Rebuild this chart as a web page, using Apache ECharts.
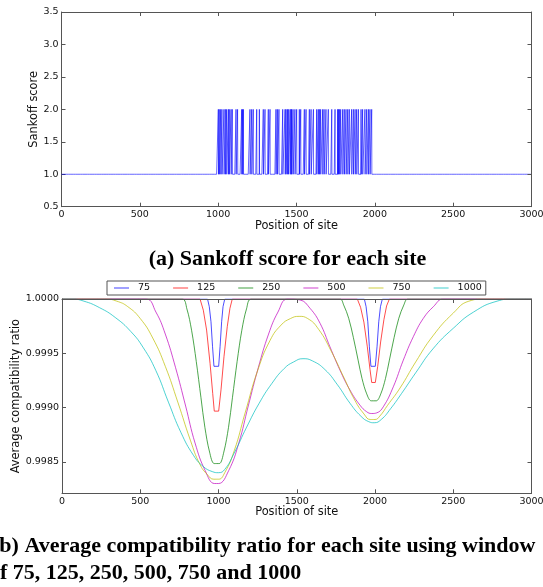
<!DOCTYPE html>
<html><head><meta charset="utf-8">
<script src="https://cdn.jsdelivr.net/npm/echarts@6/dist/echarts.min.js"></script>
<style>html,body{margin:0;padding:0;background:#fff}#c{width:543px;height:587px}</style>
</head><body><div id="c"></div>
<script>
// ---------- data ----------
const siteCount = 3000;
const sankoffLow = 1;
const sankoffHigh = 2;
// sites whose Sankoff score is 2 (others are 1)
const sankoffSites = [1001,1007,1016,1024,1037,1046,1054,1065,1071,1082,1090,1114,1124,1150,1156,1161,
  1203,1214,1224,1246,1263,1288,1299,1320,1331,1369,1378,1388,1412,1427,1433,1442,1448,1459,1465,1469,
  1478,1490,1501,1518,1527,1550,1561,1582,1593,1608,1629,1639,1646,1654,1667,1676,1688,1703,1725,1746,
  1763,1767,1774,1782,1795,1805,1816,1827,1837,1852,1863,1874,1884,1895,1912,1922,1937,1948,1959,1969,1980];

const windowNames = ['75','125','250','500','750','1000'];

const sites75 = [0,930,941,952,962,971,1001,1010,1020,1029,1040,1932,1943,1954,1964,1974,2002,2013,2024,2035,2047,2999];
const ratio75 = [1,1,0.99993,0.99979,0.99956,0.99938,0.99938,0.99956,0.99979,0.99993,1,1,0.99993,0.99979,0.99956,0.99938,0.99938,0.99956,0.99979,0.99993,1,1];

const sites125 = [0,882,903,924,946,963,973,1001,1016,1035,1056,1073,1088,1887,1908,1929,1951,1968,1979,2002,2017,2036,2057,2074,2092,2999];
const ratio125 = [1,1,0.999897,0.999714,0.999407,0.99913,0.998967,0.998967,0.999163,0.999468,0.999745,0.999914,1,1,0.999923,0.999787,0.999559,0.999352,0.999231,0.999231,0.999377,0.999604,0.99981,0.999936,1,1];

const sites250 = [0,768,798,828,858,888,913,943,973,1005,1034,1064,1089,1119,1149,1179,1209,1776,1800,1832,1862,1892,1917,1947,1976,2008,2037,2067,2092,2122,2152,2184,2210,2999];
const ratio250 = [1,1,0.999909,0.999712,0.999424,0.99909,0.998818,0.99859,0.998484,0.998484,0.99859,0.998818,0.99909,0.999424,0.999712,0.999909,1,1,0.999944,0.999822,0.999644,0.999437,0.999268,0.999126,0.999062,0.999062,0.999126,0.999268,0.999437,0.999644,0.999822,0.999944,1,1];

const sites500 = [0,535,600,660,725,790,850,915,975,1000,1065,1130,1190,1255,1320,1380,1440,1521,1585,1649,1712,1776,1840,1904,1947,1979,2011,2053,2117,2181,2245,2309,2373,2437,2999];
const ratio500 = [1,1,0.99988,0.999677,0.999371,0.999014,0.998674,0.998419,0.9983,0.9983,0.998419,0.998674,0.999014,0.999371,0.999677,0.99988,1,0.999991,0.999914,0.999776,0.99956,0.999345,0.999161,0.999022,0.998961,0.998945,0.998951,0.999007,0.999191,0.999437,0.999653,0.999822,0.999929,1,1];

const sites750 = [0,280,350,420,500,580,660,740,820,880,930,970,1000,1040,1100,1170,1250,1330,1400,1460,1515,1570,1640,1720,1800,1870,1930,1970,2000,2030,2080,2160,2260,2370,2500,2600,2700,2999];
const ratio750 = [1,1,0.99998,0.99993,0.99982,0.99964,0.99938,0.99905,0.9987,0.99848,0.99838,0.99834,0.99834,0.9984,0.9986,0.99895,0.99934,0.99962,0.99976,0.99982,0.99984,0.99982,0.99972,0.99952,0.99928,0.99907,0.99894,0.99889,0.99889,0.99892,0.99902,0.99918,0.99942,0.99966,0.99987,0.99998,1,1];

const sites1000 = [0,60,140,240,340,440,520,600,680,760,840,900,960,1000,1040,1100,1180,1260,1340,1420,1480,1540,1600,1680,1760,1840,1910,1960,1995,2040,2100,2170,2260,2370,2500,2630,2780,2880,2999];
const ratio1000 = [1,1,0.99998,0.99992,0.99983,0.9997,0.99955,0.99934,0.99905,0.99877,0.99856,0.99846,0.99841,0.9984,0.99843,0.99858,0.99882,0.99904,0.99922,0.99936,0.99942,0.99945,0.99943,0.99935,0.99921,0.99904,0.99892,0.99887,0.99886,0.99889,0.99899,0.99913,0.99932,0.99954,0.99973,0.99988,0.99998,1,1];

const ratioTicks = [0.9985, 0.9990, 0.9995, 1.0000];

// ---------- build ----------
const hiSet = new Set(sankoffSites);
const sankoffData = [];
for (let s = 0; s < siteCount; s++) sankoffData.push([s, hiSet.has(s) ? sankoffHigh : sankoffLow]);

const zip = (a, b) => a.map((v, i) => [v, b[i]]);
const winSites = [sites75, sites125, sites250, sites500, sites750, sites1000];
const winRatios = [ratio75, ratio125, ratio250, ratio500, ratio750, ratio1000];
const winColors = ['#0000ff', '#ff0000', '#008000', '#bf00bf', '#bfbf00', '#00bfbf'];
const winSmooth = [false, false, 0.35, 0.45, 0.5, 0.5];

const FONT = 'DejaVu Sans';
const AX = '#555';
const FS = 9.5;
const NFS = 11.4;
const lbl = { color: '#111', fontFamily: FONT, fontSize: FS };
const nameStyle = { color: '#111', fontFamily: FONT, fontSize: NFS };
const tick = { show: true, inside: true, length: 4, lineStyle: { color: AX } };
const line = { show: true, onZero: false, lineStyle: { color: AX, width: 1 } };

function xMain(g, gap) {
  return { type: 'value', gridIndex: g, min: 0, max: 3000, interval: 500, position: 'bottom',
    axisLine: line, axisTick: tick, splitLine: { show: false },
    axisLabel: Object.assign({ margin: 3, showMinLabel: true, showMaxLabel: true, formatter: v => String(v) }, lbl),
    name: 'Position of site', nameLocation: 'middle', nameGap: gap, nameMoveOverlap: false,
    nameTextStyle: nameStyle };
}
function xTop(g) {
  return { type: 'value', gridIndex: g, min: 0, max: 3000, interval: 500, position: 'top', z: 10,
    axisLine: line, axisTick: tick, splitLine: { show: false }, axisLabel: { show: false } };
}

const chart = echarts.init(document.getElementById('c'), null, { renderer: 'canvas' });
chart.setOption({
  animation: false,
  backgroundColor: '#fff',
  grid: [
    { left: 61.5, right: 11.5, top: 12, bottom: 380.3, outerBoundsMode: 'none', containLabel: false },
    { left: 62, right: 11.5, top: 299, bottom: 93.7, outerBoundsMode: 'none', containLabel: false }
  ],
  legend: {
    data: windowNames, left: 107, top: 281, orient: 'horizontal',
    borderColor: AX, borderWidth: 1, borderRadius: 0, padding: [2, 4, 2, 7],
    icon: 'rect', itemWidth: 15, itemHeight: 1, itemGap: 23,
    itemStyle: { opacity: 0.75 },
    textStyle: { color: '#111', fontFamily: FONT, fontSize: FS, padding: [0, 0, 0, 4] }
  },
  xAxis: [xMain(0, 13.5), xTop(0), xMain(1, 13.5), xTop(1)],
  yAxis: [
    { type: 'value', gridIndex: 0, min: 0.5, max: 3.5, interval: 0.5, position: 'left',
      axisLine: line, axisTick: tick, splitLine: { show: false },
      axisLabel: Object.assign({ margin: 3, formatter: v => v.toFixed(1) }, lbl),
      name: 'Sankoff score', nameLocation: 'middle', nameGap: 21.5, nameMoveOverlap: false,
      nameTextStyle: nameStyle },
    { type: 'value', gridIndex: 0, min: 0.5, max: 3.5, interval: 0.5, position: 'right', z: 10,
      axisLine: line, axisTick: tick, splitLine: { show: false }, axisLabel: { show: false } },
    { type: 'value', gridIndex: 1, min: 0.99821, max: 1.0, position: 'left',
      axisLine: line, axisTick: Object.assign({ customValues: ratioTicks }, tick), splitLine: { show: false },
      axisLabel: Object.assign({ margin: 3, customValues: ratioTicks, formatter: v => v.toFixed(4) }, lbl),
      name: 'Average compatibility ratio', nameLocation: 'middle', nameGap: 40, nameMoveOverlap: false,
      nameTextStyle: nameStyle },
    { type: 'value', gridIndex: 1, min: 0.99821, max: 1.0, position: 'right', z: 10,
      axisLine: line, axisTick: Object.assign({ customValues: ratioTicks }, tick), splitLine: { show: false },
      axisLabel: { show: false } }
  ],
  series: [
    { type: 'line', xAxisIndex: 0, yAxisIndex: 0, data: sankoffData, symbol: 'none',
      lineStyle: { color: '#0000ff', width: 1, opacity: 0.6 }, itemStyle: { color: '#0000ff' } }
  ].concat(windowNames.map((n, i) => ({
    name: n, type: 'line', xAxisIndex: 2, yAxisIndex: 2, data: zip(winSites[i], winRatios[i]),
    symbol: 'none', smooth: winSmooth[i],
    lineStyle: { color: winColors[i], width: 1, opacity: 0.7 }, itemStyle: { color: winColors[i] }
  }))),
  graphic: [
    { type: 'text', x: 287.5, y: 259, style: { text: '(a) Sankoff score for each site',
      font: 'bold 22px "Liberation Serif"', fill: '#000', align: 'center', verticalAlign: 'middle' } },
    { type: 'text', x: -8, y: 546, style: { text: '(b) Average compatibility ratio for each site using window',
      font: 'bold 22px "Liberation Serif"', fill: '#000', verticalAlign: 'middle' } },
    { type: 'text', x: -11, y: 573, style: { text: 'of 75, 125, 250, 500, 750 and 1000',
      font: 'bold 22px "Liberation Serif"', fill: '#000', verticalAlign: 'middle' } }
  ]
});
</script></body></html>
